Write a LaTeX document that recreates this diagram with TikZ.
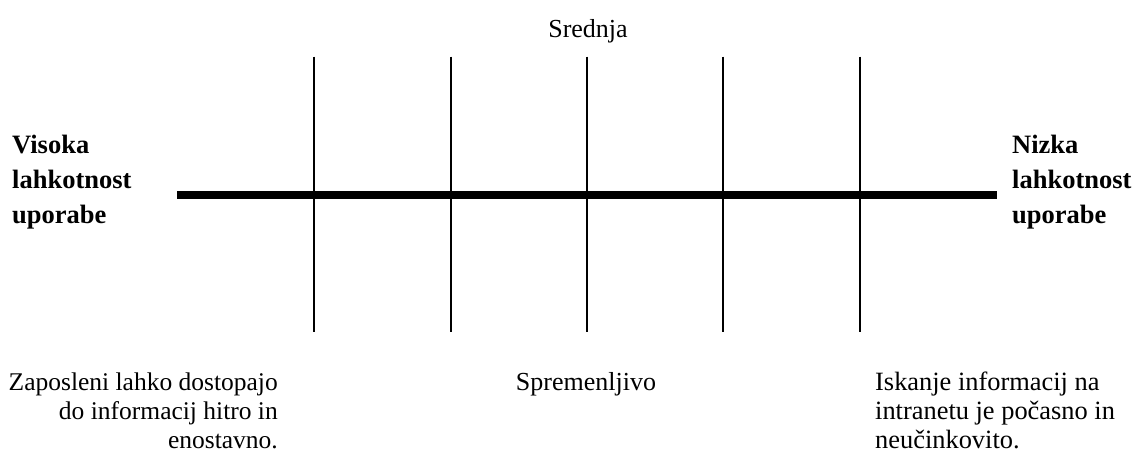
\documentclass[tikz,border=0pt]{standalone}
\usepackage{fontspec}
\setmainfont{Liberation Serif}
\begin{document}
\begin{tikzpicture}[x=1pt,y=-1pt,
  txt/.style={inner sep=0pt,font=\fontsize{26}{29}\selectfont},
  sidelbl/.style={inner sep=0pt,align=left,font=\fontsize{26.5}{35}\selectfont\bfseries},
  tick/.style={line width=2pt},
  axisline/.style={line width=8pt}]
\useasboundingbox (0,0) rectangle (1136,463);
% scale line
\coordinate (L) at (177,194.7);
\coordinate (R) at (996.7,194.7);
\draw[axisline] (L) -- (R);
% ticks
\foreach \i/\x in {1/314.3,2/450.7,3/587,4/723.3,5/859.7}{
  \coordinate (t\i) at (\x,56.7);
  \coordinate (b\i) at (\x,331.7);
  \draw[tick] (t\i) -- (b\i);
}
% labels (multi-line nodes: base anchor = last line's baseline)
\node[txt,anchor=base] (mid) at (588,37) {Srednja};
\node[sidelbl,anchor=base west] (left) at (12,223) {Visoka\\lahkotnost\\uporabe};
\node[sidelbl,anchor=base west] (right) at (1012,223) {Nizka\\lahkotnost\\uporabe};
\node[txt,font=\fontsize{25.5}{29}\selectfont,align=right,anchor=base east] (bl) at (278,448) {Zaposleni lahko dostopajo\\do informacij hitro in\\enostavno.};
\node[txt,anchor=base] (bm) at (586,390) {Spremenljivo};
\node[txt,font=\fontsize{26.4}{29}\selectfont,align=left,anchor=base west] (br) at (875,448) {Iskanje informacij na\\intranetu je počasno in\\neučinkovito.};
\end{tikzpicture}
\end{document}
